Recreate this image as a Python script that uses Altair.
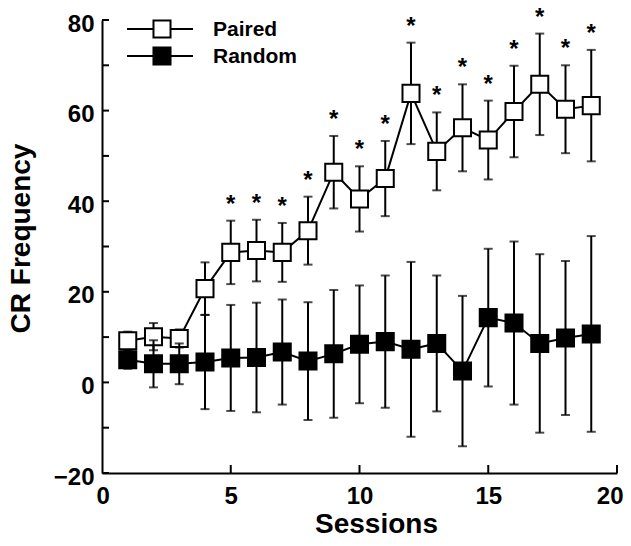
import altair as alt
import pandas as pd

# ---------------- data ----------------
sessions = list(range(1, 20))
paired_mean = [9.2, 10.1, 9.7, 20.7, 28.7, 29.1, 28.7, 33.5, 46.4, 40.5,
               45.0, 63.8, 51.0, 56.2, 53.5, 59.8, 65.8, 60.3, 61.1]
paired_sem = [2.0, 3.0, 2.0, 5.8, 7.0, 6.8, 6.5, 7.5, 8.0, 7.2,
              8.3, 11.2, 8.6, 9.6, 8.7, 10.1, 11.2, 9.7, 12.3]
random_mean = [5.0, 4.1, 4.1, 4.5, 5.4, 5.5, 6.7, 4.7, 6.3, 8.4,
               9.0, 7.3, 8.6, 2.5, 14.3, 13.1, 8.6, 9.8, 10.7]
random_sem = [2.0, 5.2, 4.5, 10.4, 11.7, 12.1, 11.6, 13.0, 14.1, 13.0,
              14.6, 19.3, 15.0, 16.6, 15.2, 18.0, 19.7, 17.0, 21.6]
sig_sessions = list(range(5, 20))          # sessions marked with *
groups = ["Paired", "Random"]
x_label_values = [0, 5, 10, 15, 20]
x_tick_values = [5, 10, 15, 20]
y_label_values = [-20, 0, 20, 40, 60, 80]
y_tick_values = list(range(-20, 81, 10))

FONT = "Liberation Sans"
W, H = 515, 453


def make_df(name, means, sems):
    return pd.DataFrame({
        "session": sessions,
        "group": name,
        "mean": means,
        "lo": [m - e for m, e in zip(means, sems)],
        "hi": [m + e for m, e in zip(means, sems)],
    })


paired_df = make_df(groups[0], paired_mean, paired_sem)
random_df = make_df(groups[1], random_mean, random_sem)
star_df = paired_df[paired_df["session"].isin(sig_sessions)]

xs = alt.Scale(domain=[0, 20], nice=False, zero=False)
ys = alt.Scale(domain=[-20, 80], nice=False, zero=False)

x_axis = alt.Axis(values=x_label_values, ticks=False, grid=False,
                  domainColor="black", domainWidth=2,
                  labelFont=FONT, labelFontSize=24, labelFontWeight="bold",
                  labelColor="black", labelPadding=11,
                  labelFlush=True, labelFlushOffset=6,
                  title="Sessions", titleFont=FONT, titleFontSize=28,
                  titleFontWeight="bold", titleColor="black", titlePadding=2,
                  titleX=274)
y_axis = alt.Axis(values=y_label_values, ticks=False, grid=False,
                  domainColor="black", domainWidth=2,
                  labelFont=FONT, labelFontSize=24, labelFontWeight="bold",
                  labelColor="black", labelPadding=8, labelFlush=False,
                  labelOffset=4,
                  title="CR Frequency", titleFont=FONT, titleFontSize=28,
                  titleFontWeight="bold", titleColor="black", titlePadding=18,
                  titleY=218)


def X(field="session"):
    return alt.X(f"{field}:Q", scale=xs, axis=x_axis)


def Y(field):
    return alt.Y(f"{field}:Q", scale=ys, axis=y_axis)


def series_layers(df, fill):
    base = alt.Chart(df)
    bars = base.mark_rule(color="black", strokeWidth=2).encode(
        x=X(), y=Y("lo"), y2="hi")
    cap_lo = base.mark_tick(color="black", orient="horizontal", size=9,
                            thickness=2).encode(x=X(), y=Y("lo"))
    cap_hi = base.mark_tick(color="black", orient="horizontal", size=9,
                            thickness=2).encode(x=X(), y=Y("hi"))
    line = base.mark_line(color="black", strokeWidth=2).encode(
        x=X(), y=Y("mean"))
    pts = base.mark_point(shape="square", filled=True, fill=fill,
                          stroke="black", strokeWidth=2, size=290,
                          opacity=1).encode(x=X(), y=Y("mean"))
    return [bars, cap_lo, cap_hi, line, pts]


stars = alt.Chart(star_df).mark_text(
    text="*", font=FONT, fontSize=24, fontWeight="bold", color="black",
    baseline="alphabetic", dy=-9).encode(x=X(), y=Y("hi"))

ytick_df = pd.DataFrame({"v": y_tick_values})
xtick_df = pd.DataFrame({"v": x_tick_values})
yticks = alt.Chart(ytick_df).mark_rule(color="black", strokeWidth=2).encode(
    y=Y("v"), x=alt.value(0), x2=alt.value(7))
xticks = alt.Chart(xtick_df).mark_rule(color="black", strokeWidth=2).encode(
    x=X("v"), y=alt.value(H), y2=alt.value(H - 8))


def legend_layers(name, fill, ypix):
    d = pd.DataFrame({"label": [name]})
    b = alt.Chart(d)
    ln = b.mark_rule(color="black", strokeWidth=2).encode(
        x=alt.value(25), x2=alt.value(91), y=alt.value(ypix))
    sq = b.mark_point(shape="square", filled=True, fill=fill, stroke="black",
                      strokeWidth=2, size=290, opacity=1).encode(
        x=alt.value(60), y=alt.value(ypix))
    tx = b.mark_text(font=FONT, fontSize=21, fontWeight="bold", color="black",
                     align="left", baseline="middle").encode(
        text="label:N", x=alt.value(111), y=alt.value(ypix + 1))
    return [ln, sq, tx]


layers = ([yticks, xticks]
          + series_layers(paired_df, "white")
          + series_layers(random_df, "black")
          + [stars]
          + legend_layers(groups[0], "white", 9)
          + legend_layers(groups[1], "black", 36))

chart = alt.layer(*layers).properties(
    width=W, height=H, autosize="none",
    padding={"left": 94, "top": 12, "right": 6, "bottom": 65},
    background="white",
).configure_view(stroke=None)

chart.save("out.html", embed_options={"renderer": "svg", "actions": False})
